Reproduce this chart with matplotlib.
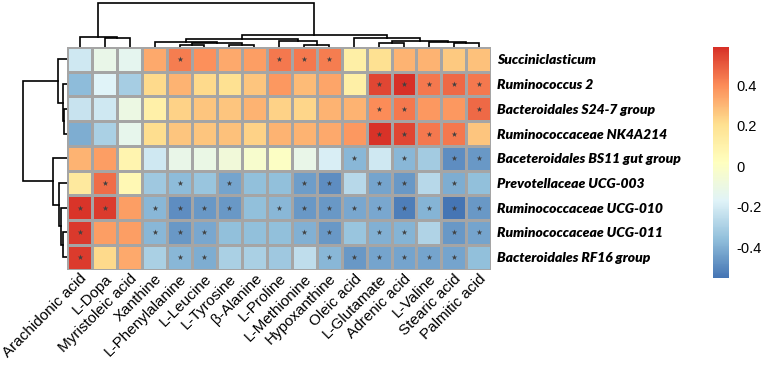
import numpy as np
import matplotlib
matplotlib.use("Agg")
import matplotlib.pyplot as plt
from matplotlib.colors import LinearSegmentedColormap

# metabolites (columns, in clustered order)
metabolites = ["Arachidonic acid", "L-Dopa", "Myristoleic acid", "Xanthine",
               "L-Phenylalanine", "L-Leucine", "L-Tyrosine", "β-Alanine",
               "L-Proline", "L-Methionine", "Hypoxanthine", "Oleic acid",
               "L-Glutamate", "Adrenic acid", "L-Valine", "Stearic acid",
               "Palmitic acid"]

# bacteria (rows, in clustered order)
taxa = ["Succiniclasticum", "Ruminococcus 2", "Bacteroidales S24-7 group",
        "Ruminococcaceae NK4A214", "Baceteroidales BS11 gut group",
        "Prevotellaceae UCG-003", "Ruminococcaceae UCG-010",
        "Ruminococcaceae UCG-011", "Bacteroidales RF16 group"]

# correlation values
corr = np.array([
    [-0.21, -0.12, -0.14, 0.33, 0.43, 0.39, 0.33, 0.36, 0.44, 0.44, 0.43, 0.12, 0.20, 0.31, 0.31, 0.26, 0.28],
    [-0.37, -0.17, -0.31, 0.22, 0.31, 0.22, 0.20, 0.27, 0.37, 0.29, 0.34, 0.12, 0.54, 0.588, 0.44, 0.47, 0.44],
    [-0.23, -0.21, -0.10, 0.11, 0.24, 0.27, 0.27, 0.31, 0.24, 0.23, 0.31, 0.31, 0.40, 0.44, 0.37, 0.37, 0.47],
    [-0.41, -0.30, -0.13, 0.21, 0.27, 0.27, 0.28, 0.24, 0.31, 0.31, 0.33, 0.37, 0.58, 0.54, 0.44, 0.44, 0.27],
    [0.31, 0.36, 0.08, -0.21, -0.12, -0.11, -0.07, -0.03, 0.00, -0.12, -0.19, -0.38, -0.21, -0.38, -0.32, -0.49, -0.46],
    [0.15, 0.46, 0.06, -0.33, -0.37, -0.34, -0.43, -0.36, -0.36, -0.45, -0.49, -0.27, -0.43, -0.46, -0.27, -0.41, -0.36],
    [0.575, 0.565, 0.36, -0.38, -0.49, -0.46, -0.46, -0.36, -0.38, -0.46, -0.46, -0.42, -0.42, -0.53, -0.39, -0.553, -0.46],
    [0.57, 0.36, 0.36, -0.38, -0.46, -0.42, -0.36, -0.36, -0.36, -0.40, -0.46, -0.34, -0.40, -0.39, -0.29, -0.46, -0.43],
    [0.565, 0.22, 0.33, -0.30, -0.38, -0.41, -0.30, -0.30, -0.33, -0.25, -0.38, -0.46, -0.43, -0.43, -0.43, -0.43, -0.36],
])

# significant cells (column indices per row)
signif = [
    [4, 8, 9, 10],
    [12, 13, 14, 15, 16],
    [12, 13, 16],
    [12, 13, 14, 15],
    [11, 13, 15, 16],
    [1, 4, 6, 9, 10, 12, 13, 15],
    [0, 1, 3, 4, 5, 6, 8, 9, 10, 11, 12, 13, 14, 15, 16],
    [0, 3, 4, 5, 9, 10, 12, 13, 15, 16],
    [0, 4, 5, 10, 11, 12, 13, 14, 15],
]

# dendrogram merges: (child a, child b, height); new node ids follow the leaves
row_merges = [(2, 3, 3.8), (1, 9, 4.3), (0, 10, 9.3), (7, 8, 4.8), (6, 12, 6.3),
              (5, 13, 8.3), (4, 14, 14.3), (11, 15, 44.3)]
col_merges = [(1, 2, 9.3), (0, 17, 9.7), (4, 5, 2.3), (6, 7, 2.0), (19, 20, 4.0),
              (3, 21, 4.7), (9, 10, 2.3), (8, 23, 5.7), (22, 24, 7.7), (12, 13, 4.3),
              (15, 16, 3.7), (14, 27, 5.3), (26, 28, 6.3), (11, 29, 9.3), (25, 30, 12.3),
              (18, 31, 44.0)]

W, H = 765, 366


def box(l, t, r, b):
    "Pixel box -> figure fraction rectangle."
    return [l / W, 1 - b / H, (r - l) / W, (b - t) / H]


def draw_tree(ax, merges, n, top):
    "Draw a dendrogram from a list of merges."
    pos = [i + 0.5 for i in range(n)]
    hgt = [0.0] * n
    for a, b, h in merges:
        xs = [pos[a], pos[a], pos[b], pos[b]]
        ys = [hgt[a], h, h, hgt[b]]
        if top:
            ax.plot(xs, ys, color="black", lw=1.2, solid_joinstyle="miter")
        else:
            ax.plot(ys, xs, color="black", lw=1.2, solid_joinstyle="miter")
        pos.append((pos[a] + pos[b]) / 2)
        hgt.append(h)


cmap = LinearSegmentedColormap.from_list(
    "rdylbu", ["#4575B4", "#91BFDB", "#E0F3F8", "#FFFFBF", "#FEE090", "#FC8D59", "#D73027"])

fig = plt.figure(figsize=(W / 100, H / 100), dpi=100)

hx0, hy0, hx1, hy1 = 67.3, 47, 491.3, 269.5
ax = fig.add_axes(box(hx0, hy0, hx1, hy1))
mesh = ax.pcolormesh(corr, cmap=cmap, vmin=corr.min(), vmax=corr.max(),
                     edgecolors="#A5A5A5", linewidth=0.9)
ax.set_xlim(0, len(metabolites))
ax.set_ylim(len(taxa), 0)
for s in ax.spines.values():
    s.set_visible(False)

# stars for significant cells
sx, sy = [], []
for r, cols in enumerate(signif):
    for c in cols:
        sx.append(c + 0.5)
        sy.append(r + 0.5)
ax.scatter(sx, sy, marker="*", s=18, color="#404040", linewidths=0)

ax.set_xticks(np.arange(len(metabolites)) + 0.5)
ax.set_xticklabels(metabolites, rotation=45, ha="right", va="top",
                   rotation_mode="anchor", fontsize=11, family="Liberation Sans")
ax.yaxis.tick_right()
ax.set_yticks(np.arange(len(taxa)) + 0.5)
ax.set_yticklabels(taxa, fontsize=10, family="Lato", weight="heavy", style="italic")
ax.tick_params(length=0)
ax.tick_params(axis="x", pad=1.5)
ax.tick_params(axis="y", pad=4)

# column dendrogram
axt = fig.add_axes(box(hx0, 0, hx1, hy0))
draw_tree(axt, col_merges, len(metabolites), True)
axt.set_xlim(0, len(metabolites))
axt.set_ylim(0, hy0)
axt.axis("off")

# row dendrogram
axl = fig.add_axes(box(0, hy0, hx0, hy1))
draw_tree(axl, row_merges, len(taxa), False)
axl.set_xlim(hx0, 0)
axl.set_ylim(len(taxa), 0)
axl.axis("off")

# colour bar
cax = fig.add_axes(box(713, 47, 729, 278))
cbar = fig.colorbar(mesh, cax=cax)
cbar.outline.set_visible(False)
ticks = [-0.4, -0.2, 0, 0.2, 0.4]
cbar.set_ticks(ticks)
cbar.set_ticklabels(["-0.4", "-0.2", "0", "0.2", "0.4"])
cax.tick_params(length=0, pad=5, labelsize=10.5)
for t in cax.get_yticklabels():
    t.set_family("Liberation Sans")

fig.savefig("out.png", dpi=100)
